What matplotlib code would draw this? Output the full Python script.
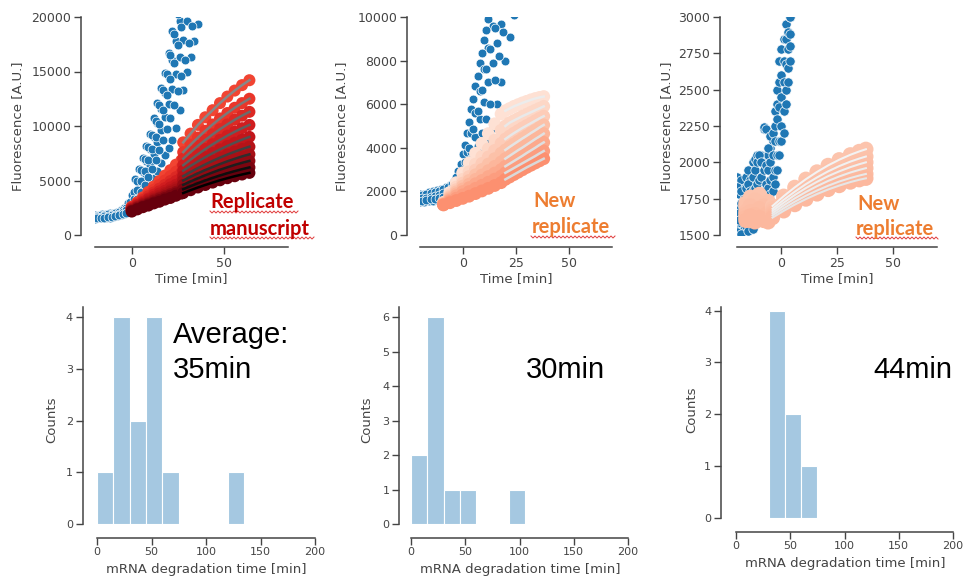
import numpy as np
import matplotlib
matplotlib.use('Agg')
import matplotlib.pyplot as plt
from matplotlib.lines import Line2D

# ---- data ----
# panel 1: blue reference traces (time in min, fluorescence in A.U.)
p1_blue_t = [-20, -18, -16, -14, -12, -10, -8, -6, -4, -2, 0, 2, 4, 6, 8, 10, 12, 14,
             16, 18, 20, 22, 24, 26, 28, 30, 32, 34, 36]
p1_blue = [
    [1800, 1850, 1900, 1950, 2000, 2050, 2150, 2250, 2450, 2900, 3700, 5100, 6100, 7100, 8200,
     9300, 10700, 12100, 13500, 14900, 16700, 18700, 20800, 22500, 24500, 26500, 28500, 30500, 32500],
    [1650, 1700, 1750, 1800, 1850, 1900, 1950, 2050, 2200, 2500, 3000, 3900, 4800, 5800, 6800,
     7900, 9000, 10300, 11600, 13000, 14500, 16100, 17800, 19600, 21500, 23500, 25500, 27500, 29500],
    [1550, 1600, 1650, 1700, 1750, 1800, 1850, 1950, 2100, 2300, 2600, 3200, 3900, 4700, 5500,
     6400, 7400, 8500, 9600, 10800, 12000, 13400, 14800, 16300, 17900, 19600, 21500, 23500, 25500],
    [1500, 1520, 1550, 1580, 1600, 1650, 1700, 1800, 1900, 2100, 2300, 2600, 3000, 3500, 4000,
     4600, 5200, 5900, 6600, 7300, 8000, 8700, 9800, 11500, 13300, 15000, 16300, 17800, 19400],
]
p1_blue_t2 = [-19, -17, -15, -13, -11, -9, -7, -5, -3, -1, 1, 3, 5, 7, 9, 11, 13, 15,
              17, 19, 21, 23, 25, 27, 29, 31, 33, 35]
p1_blue2 = [
    [1750, 1800, 1850, 1900, 1950, 2000, 2100, 2250, 2500, 3000, 3900, 5000, 6000, 7000, 8100,
     9200, 10500, 11900, 13300, 14800, 16500, 18400, 20300, 22000, 24000, 26000, 28000, 30000],
    [1620, 1680, 1720, 1780, 1820, 1880, 1950, 2080, 2280, 2650, 3300, 4100, 5000, 5900, 6900,
     7900, 9000, 10200, 11500, 12800, 14300, 15800, 17400, 19100, 20800, 22800, 24800, 26800],
    [1540, 1580, 1600, 1640, 1680, 1720, 1800, 1900, 2050, 2300, 2700, 3300, 3900, 4600, 5300,
     6100, 6900, 7800, 8700, 9700, 10700, 11900, 13200, 14600, 16100, 17600, 19200, 20800],
]
# panel 1: red replicate traces, before and during the fit window
p1_pre_t = [0, 3, 6, 9, 12, 15, 18, 21, 24, 27]
p1_pre = [
    [2600, 3000, 3450, 3950, 4450, 4950, 5450, 5950, 6450, 6850],
    [2550, 2900, 3300, 3700, 4150, 4600, 5000, 5400, 5800, 6200],
    [2500, 2850, 3200, 3550, 3900, 4250, 4600, 4950, 5300, 5700],
    [2450, 2750, 3050, 3350, 3700, 4000, 4300, 4650, 4950, 5300],
    [2400, 2700, 2950, 3250, 3500, 3800, 4050, 4350, 4600, 4900],
    [2350, 2600, 2850, 3100, 3350, 3600, 3850, 4100, 4350, 4600],
    [2300, 2550, 2800, 3000, 3250, 3450, 3700, 3950, 4150, 4400],
    [2250, 2500, 2700, 2900, 3150, 3350, 3550, 3750, 3950, 4200],
    [2200, 2400, 2600, 2800, 3000, 3200, 3400, 3600, 3800, 4000],
    [2150, 2350, 2550, 2700, 2900, 3050, 3250, 3400, 3600, 3800],
]
p1_fit_t = [28, 32, 36, 40, 44, 48, 52, 56, 60, 64]
p1_fit = [
    [8500, 9300, 10100, 10800, 11450, 12100, 12700, 13250, 13750, 14200],
    [7600, 8290, 8940, 9560, 10140, 10690, 11190, 11670, 12100, 12500],
    [7000, 7610, 8180, 8720, 9230, 9710, 10150, 10570, 10950, 11300],
    [6400, 6920, 7410, 7880, 8320, 8730, 9110, 9470, 9800, 10100],
    [5900, 6340, 6750, 7140, 7510, 7850, 8170, 8470, 8750, 9000],
    [5400, 5780, 6140, 6480, 6800, 7100, 7380, 7640, 7880, 8100],
    [5000, 5340, 5660, 5960, 6240, 6510, 6760, 6990, 7210, 7400],
    [4600, 4910, 5200, 5480, 5740, 5990, 6210, 6430, 6620, 6800],
    [4200, 4480, 4750, 5000, 5240, 5460, 5670, 5860, 6040, 6200],
    [3850, 4110, 4360, 4590, 4810, 5020, 5210, 5390, 5550, 5700],
]

# panel 2
p2_blue_t = [-20, -18, -16, -14, -12, -10, -8, -6, -4, -2, 0, 2, 4, 6, 8, 10, 12, 14,
             16, 18, 20, 22, 24]
p2_blue = [
    [1900, 1900, 1950, 2000, 2050, 2100, 2200, 2300, 2500, 2950, 3700, 4700, 5800, 6850, 7900,
     8950, 9900, 10900, 11900, 12900, 13900, 14900, 15900],
    [1750, 1780, 1800, 1850, 1900, 1950, 2050, 2150, 2300, 2600, 3100, 3800, 4700, 5600, 6600,
     7600, 8600, 9600, 10500, 11400, 12300, 13200, 14100],
    [1600, 1650, 1680, 1700, 1750, 1800, 1880, 1980, 2100, 2350, 2700, 3200, 3800, 4500, 5300,
     6100, 7000, 7900, 8800, 9700, 10600, 11500, 12400],
    [1500, 1520, 1550, 1580, 1600, 1650, 1700, 1800, 1900, 2100, 2300, 2600, 2900, 3200, 3500,
     3800, 4200, 4900, 6000, 7000, 8000, 9100, 10100],
]
p2_blue_t2 = [-19, -17, -15, -13, -11, -9, -7, -5, -3, -1, 1, 3, 5, 7, 9, 11, 13, 15,
              17, 19, 21, 23]
p2_blue2 = [
    [1820, 1870, 1920, 1970, 2020, 2100, 2200, 2350, 2650, 3250, 4150, 5200, 6250, 7300, 8350,
     9400, 10400, 11400, 12400, 13400, 14400, 15400],
    [1680, 1720, 1760, 1800, 1850, 1920, 2020, 2150, 2380, 2800, 3350, 4000, 4850, 5700, 6650,
     7600, 8550, 9500, 10400, 11300, 12200, 13100],
    [1560, 1600, 1630, 1660, 1700, 1760, 1840, 1950, 2120, 2400, 2700, 3100, 3600, 4100, 4700,
     5300, 6000, 7100, 8200, 9300, 10300, 11300],
]
p2_pre_t = [-9, -6, -3, 0, 3, 6, 9, 12, 15, 18]
p2_pre = [
    [1500, 1950, 2400, 2850, 3300, 3750, 4200, 4650, 5100, 5550],
    [1480, 1850, 2200, 2550, 2900, 3250, 3600, 3950, 4350, 4800],
    [1460, 1780, 2080, 2380, 2680, 2980, 3280, 3580, 3880, 4200],
    [1440, 1720, 1980, 2240, 2500, 2760, 3000, 3250, 3500, 3750],
    [1420, 1660, 1890, 2110, 2330, 2550, 2750, 2950, 3150, 3350],
    [1410, 1600, 1800, 1990, 2170, 2350, 2500, 2680, 2840, 3000],
    [1390, 1540, 1690, 1840, 1990, 2140, 2280, 2420, 2560, 2700],
    [1380, 1480, 1580, 1680, 1780, 1900, 2020, 2140, 2270, 2400],
]
p2_fit_t = [20, 22, 24, 26, 28, 30, 32, 34, 36, 38]
p2_fit = [
    [5700, 5800, 5900, 5980, 6060, 6130, 6200, 6260, 6310, 6350],
    [5000, 5150, 5250, 5350, 5450, 5540, 5630, 5720, 5810, 5900],
    [4400, 4540, 4670, 4790, 4910, 5020, 5130, 5240, 5350, 5450],
    [3900, 4040, 4170, 4300, 4430, 4550, 4680, 4800, 4930, 5050],
    [3500, 3630, 3760, 3890, 4010, 4140, 4270, 4400, 4520, 4650],
    [3150, 3270, 3390, 3510, 3630, 3760, 3880, 4000, 4130, 4250],
    [2850, 2960, 3070, 3180, 3290, 3400, 3510, 3620, 3740, 3850],
    [2550, 2660, 2770, 2880, 2990, 3100, 3200, 3300, 3400, 3500],
]

# panel 3
p3_blue_t = [-20, -19, -18, -17, -16, -15, -14, -13, -12, -11, -10, -9, -8, -7, -6, -5, -4,
             -3, -2, -1, 0, 1, 2, 3, 4]
p3_blue = [
    [1900, 1850, 1880, 1820, 1900, 1950, 1880, 2000, 2020, 2050, 2000, 2050, 2230, 2000, 2050,
     2100, 2150, 2350, 2500, 2700, 2780, 2850, 2950, 2880, 3000],
    [1830, 1780, 1800, 1750, 1820, 1850, 1800, 1900, 1950, 2000, 2050, 2000, 2240, 2230, 2100,
     2180, 2200, 2250, 2400, 2550, 2600, 2700, 2850, 2900, 3000],
    [1700, 1650, 1720, 1680, 1700, 1750, 1780, 1800, 1820, 1850, 1880, 1900, 1950, 1980, 1950,
     2000, 2050, 2150, 2300, 2380, 2450, 2550, 2680, 2780, 2880],
    [1550, 1520, 1580, 1540, 1600, 1650, 1560, 1620, 1700, 1720, 1750, 1780, 1800, 1850, 1820,
     1880, 1900, 1950, 2050, 2150, 2250, 2350, 2500, 2650, 2800],
    [1520, 1600, 1510, 1650, 1560, 1530, 1600, 1540, 1580, 1650, 1620, 1700, 1680, 1750, 1720,
     1780, 1800, 1850, 1950, 2050, 2150, 2200, 2400, 2550, 2700],
]
p3_pre_t = [-16, -14, -12, -10, -8, -6]
p3_pre = [
    [1720, 1760, 1700, 1780, 1740, 1700],
    [1700, 1680, 1740, 1720, 1690, 1730],
    [1660, 1700, 1680, 1650, 1700, 1670],
    [1640, 1660, 1620, 1680, 1640, 1620],
    [1620, 1600, 1640, 1610, 1630, 1650],
    [1600, 1630, 1590, 1620, 1600, 1590],
]
p3_fit_t = [-4, 1, 6, 11, 16, 21, 26, 31, 35, 38]
p3_fit = [
    [1700, 1767, 1828, 1884, 1934, 1979, 2018, 2052, 2075, 2090],
    [1680, 1742, 1798, 1850, 1896, 1938, 1974, 2005, 2026, 2040],
    [1665, 1722, 1775, 1823, 1866, 1905, 1938, 1967, 1987, 2000],
    [1650, 1703, 1752, 1796, 1836, 1872, 1903, 1930, 1948, 1960],
    [1635, 1684, 1729, 1770, 1806, 1839, 1868, 1892, 1909, 1920],
    [1620, 1666, 1709, 1747, 1782, 1813, 1840, 1864, 1880, 1890],
]

# histograms of mRNA degradation time
h1_edges = [0, 15, 30, 45, 60, 75, 90, 105, 120, 135]
h1_counts = [1, 4, 2, 4, 1, 0, 0, 0, 1]
h2_edges = [0, 15, 30, 45, 60, 75, 90, 105]
h2_counts = [2, 6, 1, 1, 0, 0, 1]
h3_edges = [30, 45, 60, 75]
h3_counts = [4, 2, 1]

W, H = 964, 579
GREY = '#444444'
BLUE = '#1f77b4'
BAR = '#a5c8e1'
plt.rcParams['font.family'] = 'DejaVu Sans'

fig = plt.figure(figsize=(W / 100, H / 100), dpi=100)


def px_axes(left, right, top, bottom):
    return fig.add_axes([left / W, 1 - bottom / H, (right - left) / W, (bottom - top) / H])


def style(ax, left_off, bottom_off, size):
    for s in ['top', 'right']:
        ax.spines[s].set_visible(False)
    ax.spines['left'].set_position(('outward', left_off))
    ax.spines['bottom'].set_position(('outward', bottom_off))
    for s in ['left', 'bottom']:
        ax.spines[s].set_color(GREY)
        ax.spines[s].set_linewidth(1.1)
    ax.tick_params(length=5, width=1.0, color=GREY, labelcolor=GREY, labelsize=size, pad=2)


def labels(ax, xl, yl, xpos, ypos):
    ax.set_xlabel(xl, fontsize=9.5, color=GREY, va='center')
    ax.set_ylabel(yl, fontsize=9.5, color=GREY, va='center')
    ax.xaxis.set_label_coords(xpos[0] / W, 1 - xpos[1] / H, transform=fig.transFigure)
    ax.yaxis.set_label_coords(ypos[0] / W, 1 - ypos[1] / H, transform=fig.transFigure)


def blue_cloud(ax, t, traces, size):
    for tr in traces:
        ax.scatter(t, tr, s=size, color=BLUE, edgecolor='white', linewidth=0.5, zorder=2)


def replicate(ax, pre_t, pre, fit_t, fit, pt_cols, ln_cols, s_pts, lw):
    for tr, c in zip(pre, pt_cols):
        ax.scatter(pre_t, tr, s=s_pts, color=c, edgecolor='none', zorder=3)
    for tr, c in zip(fit, pt_cols):
        ax.scatter(fit_t, tr, s=s_pts, color=c, edgecolor='none', zorder=3)
    for tr, c in zip(fit, ln_cols):
        ax.plot(fit_t, tr, color=c, lw=lw, zorder=4)


# ---- top row: fluorescence traces ----
ax1 = px_axes(95, 288, 17, 235)
blue_cloud(ax1, p1_blue_t, p1_blue, 40)
blue_cloud(ax1, p1_blue_t2, p1_blue2, 40)
replicate(ax1, p1_pre_t, p1_pre, p1_fit_t, p1_fit,
          plt.cm.Reds(np.linspace(0.6, 1.0, len(p1_fit))),
          plt.cm.Greys(np.linspace(0.55, 1.0, len(p1_fit))), 75, 1.8)
ax1.set_xlim(-20, 85)
ax1.set_ylim(0, 20000)
ax1.set_xticks([0, 50])
ax1.set_yticks([0, 5000, 10000, 15000, 20000])
style(ax1, 10, 8.6, 9)
labels(ax1, 'Time [min]', 'Fluorescence [A.U.]', (191, 279), (18, 126))

ax2 = px_axes(420, 612, 17, 235)
blue_cloud(ax2, p2_blue_t, p2_blue, 40)
blue_cloud(ax2, p2_blue_t2, p2_blue2, 40)
replicate(ax2, p2_pre_t, p2_pre, p2_fit_t, p2_fit,
          plt.cm.Reds(np.linspace(0.12, 0.38, len(p2_fit))),
          plt.cm.Greys(np.linspace(0.15, 0.25, len(p2_fit))), 85, 1.8)
ax2.set_xlim(-20, 70)
ax2.set_ylim(0, 10000)
ax2.set_xticks([0, 25, 50])
ax2.set_yticks([0, 2000, 4000, 6000, 8000, 10000])
style(ax2, 9.4, 8.6, 9)
labels(ax2, 'Time [min]', 'Fluorescence [A.U.]', (516, 279), (342, 126))

ax3 = px_axes(737, 937, 17, 235)
blue_cloud(ax3, p3_blue_t, p3_blue, 45)
replicate(ax3, p3_pre_t, p3_pre, p3_fit_t, p3_fit,
          plt.cm.Reds(np.linspace(0.22, 0.26, len(p3_fit))),
          plt.cm.Greys(np.linspace(0.1, 0.18, len(p3_fit))), 120, 1.5)
ax3.set_xlim(-20, 70)
ax3.set_ylim(1500, 3000)
ax3.set_xticks([0, 25, 50])
ax3.set_yticks([1500, 1750, 2000, 2250, 2500, 2750, 3000])
style(ax3, 12.2, 8.6, 9)
labels(ax3, 'Time [min]', 'Fluorescence [A.U.]', (837, 279), (667, 126))

# ---- bottom row: histograms ----
hists = [
    (h1_edges, h1_counts, (97, 315, 307, 524), 4.2, [0, 1, 2, 3, 4], 10.3, (206, 570), (52, 420)),
    (h2_edges, h2_counts, (411, 628, 307, 524), 6.3, [0, 1, 2, 3, 4, 5, 6], 8.6, (520, 570), (367, 420)),
    (h3_edges, h3_counts, (736, 953, 307, 518), 4.07, [0, 1, 2, 3, 4], 10.8, (845, 564), (692, 410)),
]
for edges, counts, box, ytop, yt, loff, xlp, ylp in hists:
    ax = px_axes(*box)
    ax.bar(edges[:-1], counts, width=np.diff(edges), align='edge', color=BAR,
           edgecolor='white', linewidth=0.8)
    ax.set_xlim(0, 200)
    ax.set_ylim(0, ytop)
    ax.set_xticks([0, 50, 100, 150, 200])
    ax.set_yticks(yt)
    style(ax, loff, 9.9, 8)
    labels(ax, 'mRNA degradation time [min]', 'Counts', xlp, ylp)


# ---- slide annotations ----
def ftext(x, y, s, **kw):
    fig.text(x / W, 1 - y / H, s, va='baseline', ha='left', **kw)


def squiggle(x0, x1, y):
    # spell-check style wavy underline below a word
    xs = np.arange(x0, x1, 2.0)
    ys = y + np.where(np.arange(len(xs)) % 2 == 0, -1.0, 1.0)
    fig.add_artist(Line2D(xs / W, 1 - ys / H, transform=fig.transFigure,
                          color='#e03a3a', lw=0.7))


note = dict(fontsize=14.5, fontweight='bold', family='Lato')
ftext(210, 208, 'Replicate', color='#c00000', **note)
ftext(210, 235, 'manuscript', color='#c00000', **note)
ftext(533, 207, 'New', color='#ed7d31', **note)
ftext(532, 233, 'replicate', color='#ed7d31', **note)
ftext(857, 210, 'New', color='#ed7d31', **note)
ftext(856, 235, 'replicate', color='#ed7d31', **note)
squiggle(210, 300, 212)
squiggle(210, 315, 238)
squiggle(531, 616, 237)
squiggle(856, 940, 238)

big = dict(fontsize=21, color='black', family='Liberation Sans')
ftext(173, 343, 'Average:', **big)
ftext(173, 378, '35min', **big)
ftext(526, 378, '30min', **big)
ftext(873, 378, '44min', **big)

fig.savefig('out.png', dpi=100)
